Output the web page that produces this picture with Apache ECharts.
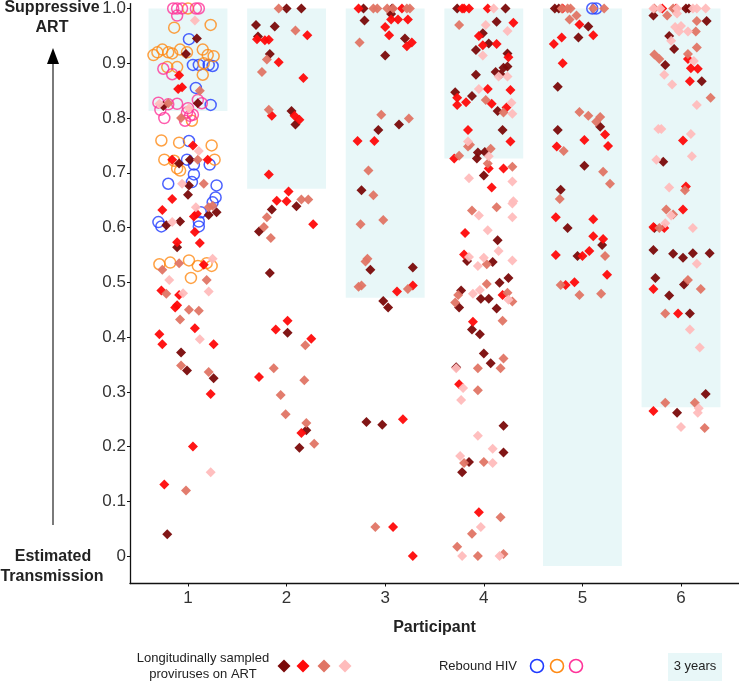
<!DOCTYPE html>
<html><head><meta charset="utf-8">
<script src="https://cdn.jsdelivr.net/npm/echarts@6/dist/echarts.min.js"></script>
<style>html,body{margin:0;padding:0;background:#fff}#c{width:739px;height:681px}</style>
</head><body><div id="c"></div>
<script>
const FONT = '"Liberation Sans", Arial, Helvetica, sans-serif';
const participants = [1, 2, 3, 4, 5, 6];
const yTicks = [0, 0.1, 0.2, 0.3, 0.4, 0.5, 0.6, 0.7, 0.8, 0.9, 1.0];
// "3 years" windows: bottom value per participant (top is 1.0), half width in participant units
const shadeBottom = [0.813, 0.671, 0.472, 0.726, -0.018, 0.272];
const shadeTop = 1.0;
const shadeHalf = 0.4;

// Longitudinally sampled proviruses on ART [participant + jitter, value]
const darkRed = [
[1.09,0.945],[0.98,0.917],[0.75,0.822],[1.10,0.827],[1.02,0.724],[0.91,0.717],[1.01,0.677],[1.00,0.66],[1.21,0.623],[1.29,0.628],[0.78,0.604],[0.92,0.611],[0.89,0.564],[0.93,0.372],[0.99,0.339],[1.26,0.325],[0.79,0.04],
[2.00,1.0],[2.15,1.0],[1.69,0.97],[1.88,0.967],[1.71,0.949],[1.83,0.917],[2.05,0.813],[2.09,0.788],[1.85,0.633],[2.10,0.639],[1.72,0.593],[1.83,0.517],[2.01,0.408],[2.20,0.23],[2.13,0.198],
[2.78,1.0],[3.07,1.0],[3.06,0.99],[2.79,0.978],[3.20,0.945],[3.00,0.914],[2.93,0.778],[3.14,0.788],[2.76,0.668],[2.85,0.523],[3.28,0.527],[2.98,0.466],[3.03,0.454],[2.81,0.245],[2.97,0.24],
[3.73,1.0],[4.22,1.0],[4.13,0.976],[3.99,0.955],[4.05,0.936],[3.92,0.924],[4.24,0.918],[4.24,0.894],[4.20,0.892],[3.92,0.879],[4.12,0.884],[4.17,0.88],[3.71,0.847],[3.88,0.84],[4.14,0.813],[4.19,0.778],[3.94,0.737],[4.01,0.738],[3.93,0.726],[4.00,0.695],[4.14,0.577],[3.83,0.539],[4.09,0.537],[4.25,0.508],[4.16,0.499],[3.77,0.485],[3.75,0.454],[3.97,0.47],[4.05,0.47],[4.13,0.452],[3.88,0.414],[3.96,0.405],[4.00,0.37],[4.07,0.352],[3.72,0.345],[4.20,0.238],[4.20,0.189],[3.85,0.172],[3.78,0.153],
[4.72,1.0],[4.76,1.0],[5.06,0.967],[4.96,0.947],[4.75,0.857],[5.18,0.784],[4.75,0.778],[5.02,0.713],[4.78,0.669],[4.85,0.599],[5.20,0.568],[4.95,0.548],
[5.72,0.987],[6.05,1.0],[6.08,1.0],[6.26,0.977],[5.88,0.95],[5.93,0.926],[5.84,0.897],[6.21,0.867],[5.82,0.72],[5.73,0.599],[5.72,0.559],[5.92,0.552],[6.02,0.545],[6.12,0.553],[6.29,0.553],[5.74,0.508],[6.03,0.496],[5.88,0.476],[6.09,0.443],[6.25,0.296],[5.96,0.262]
];
const red = [
[0.91,0.878],[0.90,0.853],[0.94,0.856],[1.05,0.75],[0.84,0.724],[1.20,0.724],[0.84,0.652],[0.74,0.632],[1.06,0.62],[1.09,0.625],[1.07,0.592],[0.89,0.573],[1.12,0.572],[1.16,0.532],[0.73,0.485],[0.91,0.477],[0.87,0.454],[0.89,0.458],[1.07,0.416],[0.71,0.405],[0.74,0.387],[1.26,0.387],[1.23,0.296],[1.05,0.2],[0.76,0.131],
[2.21,0.951],[1.70,0.944],[1.78,0.942],[1.82,0.943],[1.92,0.902],[2.17,0.873],[1.85,0.804],[2.08,0.804],[2.13,0.797],[1.82,0.697],[2.02,0.666],[1.90,0.649],[2.00,0.648],[2.27,0.606],[2.01,0.43],[1.89,0.414],[2.25,0.397],[1.72,0.327],[2.15,0.225],
[2.73,1.0],[3.17,1.0],[3.06,0.98],[3.13,0.98],[3.23,0.98],[3.00,0.966],[3.04,0.951],[3.27,0.938],[3.22,0.931],[2.72,0.758],[2.89,0.758],[3.12,0.483],[3.28,0.494],[3.18,0.25],[3.08,0.053],[3.28,0.0],
[3.78,1.0],[3.80,1.0],[3.85,1.0],[4.04,1.0],[4.30,0.974],[3.95,0.95],[3.99,0.933],[4.13,0.935],[4.25,0.911],[4.04,0.853],[4.27,0.851],[3.73,0.837],[3.73,0.824],[3.82,0.829],[4.08,0.826],[4.23,0.819],[3.84,0.778],[4.27,0.757],[3.70,0.726],[4.05,0.708],[4.20,0.708],[4.08,0.673],[3.81,0.59],[3.80,0.551],[4.19,0.477],[3.89,0.428],[3.75,0.314],[3.95,0.08],
[4.80,1.0],[4.97,0.971],[4.79,0.947],[5.11,0.951],[4.71,0.935],[4.80,0.9],[5.23,0.77],[5.02,0.76],[5.26,0.749],[4.74,0.748],[4.73,0.619],[5.11,0.615],[5.11,0.584],[5.21,0.579],[5.07,0.557],[4.73,0.55],[5.00,0.548],[5.25,0.514],[4.83,0.495],[4.92,0.5],
[5.81,1.0],[5.95,1.0],[6.07,0.908],[6.10,0.891],[6.17,0.89],[6.09,0.867],[6.02,0.759],[6.05,0.675],[6.02,0.633],[5.72,0.601],[5.83,0.599],[5.72,0.488],[5.97,0.443],[5.72,0.265]
];
const salmon = [
[1.12,0.85],[0.80,0.827],[0.93,0.80],[1.10,0.724],[1.16,0.68],[1.21,0.637],[1.25,0.64],[0.91,0.535],[0.74,0.523],[1.19,0.504],[0.78,0.479],[1.01,0.45],[1.11,0.448],[0.92,0.432],[0.93,0.348],[1.21,0.336],[0.98,0.12],
[1.92,1.0],[2.09,0.96],[1.80,0.907],[1.75,0.884],[1.82,0.815],[2.15,0.651],[2.22,0.651],[1.80,0.619],[1.77,0.601],[1.84,0.581],[2.19,0.385],[1.87,0.343],[2.18,0.321],[1.94,0.294],[1.99,0.259],[2.20,0.243],[2.28,0.205],
[2.88,1.0],[2.92,1.0],[3.02,1.0],[3.08,1.0],[3.22,1.0],[3.25,1.0],[2.74,0.938],[2.96,0.806],[3.24,0.799],[2.83,0.704],[2.88,0.659],[2.75,0.606],[2.98,0.614],[2.82,0.543],[2.80,0.538],[2.73,0.492],[2.76,0.494],[3.23,0.488],[2.90,0.053],
[3.75,0.97],[4.02,0.833],[4.20,0.81],[3.86,0.751],[3.84,0.748],[4.07,0.744],[3.75,0.731],[4.04,0.717],[4.29,0.711],[3.88,0.631],[4.13,0.637],[4.03,0.533],[4.03,0.497],[4.24,0.481],[4.29,0.465],[3.74,0.477],[3.71,0.463],[4.19,0.43],[4.20,0.361],[3.94,0.343],[4.17,0.343],[3.94,0.303],[3.80,0.17],[4.00,0.172],[4.17,0.071],[3.88,0.041],[3.73,0.017],[3.94,0.0],[4.20,0.004],
[4.79,1.0],[4.85,1.0],[4.88,1.0],[5.11,1.0],[5.22,1.0],[4.94,0.987],[4.87,0.98],[4.97,0.811],[5.06,0.804],[5.18,0.802],[5.14,0.793],[4.81,0.74],[5.21,0.702],[5.28,0.68],[4.77,0.652],[5.23,0.548],[4.78,0.495],[4.97,0.477],[5.19,0.479],
[5.73,1.0],[5.92,1.0],[5.86,0.987],[6.16,0.977],[6.15,0.958],[6.16,0.929],[5.73,0.916],[5.78,0.908],[6.07,0.917],[6.30,0.837],[6.04,0.668],[5.85,0.633],[5.92,0.624],[5.78,0.599],[6.07,0.504],[6.20,0.488],[5.84,0.443],[5.84,0.28],[6.14,0.28],[6.24,0.234]
];
const pink = [
[1.07,0.978],[0.71,0.826],[1.01,0.818],[1.11,0.74],[0.94,0.68],[1.08,0.637],[0.84,0.61],[1.25,0.543],[0.81,0.504],[0.95,0.48],[1.21,0.483],[1.12,0.396],[1.23,0.153],
[4.10,1.0],[4.02,0.97],[4.24,0.959],[3.99,0.914],[4.15,0.876],[4.24,0.876],[3.95,0.853],[4.28,0.828],[4.29,0.808],[3.84,0.757],[4.05,0.73],[3.85,0.69],[4.29,0.684],[4.30,0.648],[3.95,0.622],[4.29,0.619],[4.29,0.644],[4.04,0.595],[4.15,0.557],[3.85,0.546],[4.00,0.545],[3.94,0.53],[4.29,0.54],[3.96,0.486],[4.25,0.468],[3.89,0.479],[3.72,0.343],[3.79,0.307],[3.77,0.285],[3.94,0.22],[4.09,0.196],[3.76,0.183],[4.09,0.17],[3.97,0.053],[3.78,0.0],[4.16,0.0],
[5.72,1.0],[5.79,1.0],[5.96,1.0],[6.12,1.0],[6.16,1.0],[6.25,1.0],[5.96,0.991],[5.94,0.966],[6.00,0.968],[5.98,0.958],[6.07,0.958],[5.90,0.941],[6.13,0.904],[5.83,0.879],[5.91,0.861],[6.16,0.824],[5.77,0.78],[5.80,0.78],[6.10,0.771],[5.75,0.724],[6.11,0.73],[5.88,0.673],[5.90,0.622],[5.84,0.608],[6.12,0.599],[6.16,0.534],[6.09,0.414],[6.19,0.381],[6.18,0.27],[6.17,0.262],[6.00,0.236]
];
// Rebound HIV
const reboundBlue = [
[1.01,0.944],[1.05,0.897],[1.11,0.897],[1.21,0.897],[1.25,0.895],[1.08,0.855],[1.23,0.824],[1.01,0.758],[0.99,0.724],[1.06,0.715],[1.22,0.715],[1.06,0.697],[0.80,0.68],[1.04,0.683],[1.29,0.677],[1.28,0.655],[1.25,0.646],[0.70,0.61],[0.73,0.602],[1.13,0.628],[1.11,0.611],[1.11,0.602],
[5.10,1.0],[5.14,1.0]
];
const reboundOrange = [
[1.00,1.0],[0.86,0.965],[1.23,0.97],[0.65,0.915],[0.69,0.92],[0.74,0.925],[0.80,0.92],[0.84,0.918],[0.92,0.925],[0.99,0.92],[1.15,0.925],[1.20,0.915],[1.26,0.913],[1.16,0.9],[1.15,0.879],[0.79,0.893],[0.89,0.893],[1.04,0.795],[0.73,0.759],[0.91,0.755],[1.24,0.75],[0.76,0.724],[1.27,0.724],[0.86,0.722],[0.89,0.708],[0.92,0.704],[0.71,0.533],[0.82,0.536],[1.01,0.54],[1.10,0.53],[1.19,0.535],[1.24,0.53],[1.03,0.508]
];
const reboundPink = [
[0.85,1.0],[0.89,1.0],[0.94,1.0],[1.08,1.0],[1.11,1.0],[0.89,0.987],[0.75,0.89],[0.84,0.88],[0.70,0.828],[0.80,0.825],[0.89,0.826],[1.00,0.818],[1.10,0.833],[1.14,0.827],[0.72,0.815],[0.76,0.80],[0.99,0.81],[1.02,0.804],[1.05,0.806],[0.97,0.795]
];

const COL = {darkRed:'#7a0a0a', red:'#ff0a0a', salmon:'#e07565', pink:'#ffbcbc',
  blue:'#1f3bff', orange:'#ff8a14', magenta:'#ff3399', shade:'#e8f7f8'};

const chart = echarts.init(document.getElementById('c'), null, {renderer:'canvas'});

const shadeAreas = participants.map((p, i) => [
  {xAxis: p - shadeHalf, yAxis: shadeBottom[i]},
  {xAxis: p + shadeHalf, yAxis: shadeTop}
]);

function diamonds(name, data, color) {
  return {name, type:'scatter', data, symbol:'diamond', symbolSize:10, clip:false, z:3,
    itemStyle:{color, opacity:0.95}, silent:true};
}
function circles(name, data, color) {
  return {name, type:'scatter', data, symbol:'circle', symbolSize:11, clip:false, z:2,
    itemStyle:{color:'rgba(0,0,0,0)', borderColor:color, borderWidth:1.5}, silent:true};
}

const legendDiamond = (cx, cy, r, color) => ({type:'polygon', silent:true,
  shape:{points:[[cx, cy - r],[cx + r, cy],[cx, cy + r],[cx - r, cy]]}, style:{fill:color}});
const legendCircle = (cx, cy, color) => ({type:'circle', silent:true,
  shape:{cx, cy, r:6.5}, style:{fill:'none', stroke:color, lineWidth:1.6}});
const txt = (x, y, text, size, weight, align) => ({type:'text', silent:true, x, y,
  style:{text, fill:'#222', font:(weight||'normal') + ' ' + size + 'px ' + FONT, align:align||'center', verticalAlign:'middle'}});

chart.setOption({
  animation:false,
  backgroundColor:'#fff',
  grid:{left:130, right:0, top:0, bottom:97.5},
  xAxis:{type:'value', min:0.412, max:6.588,
    axisLine:{show:true, onZero:false, lineStyle:{color:'#111', width:1.3}},
    splitLine:{show:false},
    axisTick:{show:true, customValues:participants, length:3, lineStyle:{color:'#111'}},
    axisLabel:{customValues:participants, fontSize:17, color:'#333', margin:6, fontFamily:FONT},
    name:'Participant', nameLocation:'middle', nameGap:36,
    nameTextStyle:{fontWeight:'bold', fontSize:16, color:'#222', fontFamily:FONT}
  },
  yAxis:{type:'value', min:-0.05, max:1.009,
    axisLine:{show:true, onZero:false, lineStyle:{color:'#111', width:1.3}},
    splitLine:{show:false},
    axisTick:{show:true, customValues:yTicks, length:3, lineStyle:{color:'#111'}},
    axisLabel:{customValues:yTicks, fontSize:17, color:'#333', margin:4, fontFamily:FONT,
      formatter:v => (Math.abs(v) < 1e-9 ? '0' : v.toFixed(1))}
  },
  series:[
    {name:'3 years', type:'scatter', data:[], z:1, silent:true,
      markArea:{silent:true, itemStyle:{color:COL.shade}, data:shadeAreas}},
    circles('Rebound blue', reboundBlue, COL.blue),
    circles('Rebound orange', reboundOrange, COL.orange),
    circles('Rebound pink', reboundPink, COL.magenta),
    diamonds('dark red', darkRed, COL.darkRed),
    diamonds('red', red, COL.red),
    diamonds('salmon', salmon, COL.salmon),
    diamonds('pink', pink, COL.pink)
  ],
  graphic:[
    txt(52, 8, 'Suppressive', 16, 'bold'),
    txt(52, 28, 'ART', 16, 'bold'),
    {type:'line', silent:true, shape:{x1:53, y1:60, x2:53, y2:525}, style:{stroke:'#7a7a7a', lineWidth:2}},
    {type:'polygon', silent:true, shape:{points:[[53,48],[47,64],[59,64]]}, style:{fill:'#000'}},
    txt(53, 557, 'Estimated', 16, 'bold'),
    txt(52, 577, 'Transmission', 16, 'bold'),
    txt(203, 658, 'Longitudinally sampled', 13),
    txt(203, 674, 'proviruses on ART', 13),
    legendDiamond(284, 666, 6.5, COL.darkRed),
    legendDiamond(303, 666, 6.5, COL.red),
    legendDiamond(324, 666, 6.5, COL.salmon),
    legendDiamond(345, 666, 6.5, COL.pink),
    txt(478, 666, 'Rebound HIV', 13),
    legendCircle(537, 666, COL.blue),
    legendCircle(557, 666, COL.orange),
    legendCircle(576, 666, COL.magenta),
    {type:'rect', silent:true, shape:{x:668, y:653, width:54, height:28}, style:{fill:COL.shade}},
    txt(695, 666, '3 years', 13)
  ]
});
</script>
</body></html>
